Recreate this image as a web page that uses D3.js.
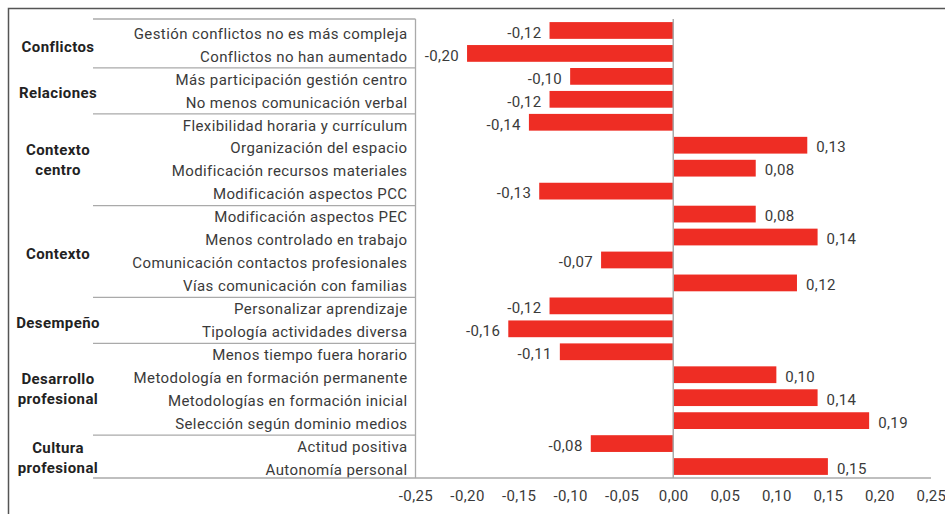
<!DOCTYPE html>
<html>
<head>
<meta charset="utf-8">
<script src="https://cdn.jsdelivr.net/npm/d3@7"></script>
<style>
  body { margin: 0; background: #fff; }
  text { font-family: Roboto, "Noto Sans", sans-serif; letter-spacing: 0.4px; }
</style>
</head>
<body>
<div id="chart-area"></div>
<script>
// horizontal bars grouped by block, values in ES number format

const categories = [
  "Gestión conflictos no es más compleja",
  "Conflictos no han aumentado",
  "Más participación gestión centro",
  "No menos comunicación verbal",
  "Flexibilidad horaria y currículum",
  "Organización del espacio",
  "Modificación recursos materiales",
  "Modificación aspectos PCC",
  "Modificación aspectos PEC",
  "Menos controlado en trabajo",
  "Comunicación contactos profesionales",
  "Vías comunicación con familias",
  "Personalizar aprendizaje",
  "Tipología actividades diversa",
  "Menos tiempo fuera horario",
  "Metodología en formación permanente",
  "Metodologías en formación inicial",
  "Selección según dominio medios",
  "Actitud positiva",
  "Autonomía personal"
]
const values = [-0.12, -0.20, -0.10, -0.12, -0.14, 0.13, 0.08, -0.13, 0.08, 0.14,
                -0.07, 0.12, -0.12, -0.16, -0.11, 0.10, 0.14, 0.19, -0.08, 0.15]
const groups = [
  ["Conflictos"],
  ["Relaciones"],
  ["Contexto", "centro"],
  ["Contexto"],
  ["Desempeño"],
  ["Desarrollo", "profesional"],
  ["Cultura", "profesional"]
]
const groupSizes = [2, 2, 4, 4, 2, 4, 2]
const xTicks = [-0.25, -0.20, -0.15, -0.10, -0.05, 0, 0.05, 0.10, 0.15, 0.20, 0.25]

const W = 945, H = 514
const PLOT = {LEFT: 415.5, RIGHT: 931, TOP: 19, BOTTOM: 478}
const TABLE_LEFT = 93
const LABEL_SHIFT = 3
const FONT = "15px"

const es = d3.formatLocale({decimal: ",", thousands: ".", grouping: [3], currency: ["", ""], minus: "-"})
const fmt = es.format(".2f")

const svg = d3.select("#chart-area").append("svg")
    .attr("width", W)
    .attr("height", H)

// outer frame (runs off the right and bottom edges)
svg.append("rect")
    .attr("x", 8.5).attr("y", 8.5)
    .attr("width", W + 20).attr("height", H + 20)
    .attr("fill", "none")
    .attr("stroke", "#555")
    .attr("stroke-width", 1.5)

const x = d3.scaleLinear()
    .domain([-0.25, 0.25])
    .range([PLOT.LEFT, PLOT.RIGHT])

const y = d3.scaleBand()
    .domain(categories)
    .range([PLOT.TOP, PLOT.BOTTOM])
    .paddingInner(0.27)
    .paddingOuter(0.135)

const step = y.step()

// table lines
const grid = svg.append("g").attr("stroke", "#aaa").attr("stroke-width", 1.3)
grid.append("line")
    .attr("x1", TABLE_LEFT).attr("x2", PLOT.LEFT)
    .attr("y1", PLOT.TOP).attr("y2", PLOT.TOP)
grid.append("line")
    .attr("x1", PLOT.LEFT).attr("x2", PLOT.LEFT)
    .attr("y1", PLOT.TOP).attr("y2", PLOT.BOTTOM)

let start = 0
const groupSpans = groupSizes.map(n => {
  const span = {from: start, to: start + n}
  start += n
  return span
})
groupSpans.slice(0, -1).forEach(s => {
  const yy = PLOT.TOP + s.to * step + LABEL_SHIFT
  grid.append("line")
      .attr("x1", TABLE_LEFT).attr("x2", PLOT.LEFT)
      .attr("y1", yy).attr("y2", yy)
})

// bars
svg.append("g").selectAll("rect")
    .data(values)
    .enter().append("rect")
    .attr("x", d => x(Math.min(0, d)))
    .attr("y", (d, i) => y(categories[i]))
    .attr("width", d => Math.abs(x(d) - x(0)))
    .attr("height", y.bandwidth())
    .attr("fill", "#ee2d24")

// zero line
svg.append("line")
    .attr("x1", x(0)).attr("x2", x(0))
    .attr("y1", PLOT.TOP).attr("y2", PLOT.BOTTOM)
    .attr("stroke", "#aaa")
    .attr("stroke-width", 1.5)

// value labels
svg.append("g").selectAll("text")
    .data(values)
    .enter().append("text")
    .attr("x", d => d < 0 ? x(d) - 8 : x(d) + 9)
    .attr("y", (d, i) => y(categories[i]) + y.bandwidth() / 2 + 2)
    .attr("dy", "0.35em")
    .attr("text-anchor", d => d < 0 ? "end" : "start")
    .attr("font-size", FONT)
    .attr("fill", "#3a3a3a")
    .text(d => fmt(d))

// category labels
svg.append("g").selectAll("text")
    .data(categories)
    .enter().append("text")
    .attr("x", PLOT.LEFT - 8)
    .attr("y", d => y(d) + y.bandwidth() / 2 + LABEL_SHIFT)
    .attr("dy", "0.35em")
    .attr("text-anchor", "end")
    .attr("font-size", FONT)
    .attr("fill", "#3a3a3a")
    .text(d => d)

// group labels
const gl = svg.append("g")
groups.forEach((lines, i) => {
  const s = groupSpans[i]
  const cy = PLOT.TOP + (s.from + s.to) / 2 * step + LABEL_SHIFT + (lines.length === 1 ? 2 : 0)
  const t = gl.append("text")
      .attr("x", 58)
      .attr("y", cy - (lines.length - 1) * 10)
      .attr("text-anchor", "middle")
      .attr("font-size", FONT)
      .attr("font-weight", "bold")
      .attr("fill", "#222")
  lines.forEach((ln, j) => {
    t.append("tspan")
        .attr("x", 58)
        .attr("dy", j === 0 ? "0.35em" : "20px")
        .text(ln)
  })
})

// x axis
svg.append("line")
    .attr("x1", TABLE_LEFT).attr("x2", PLOT.RIGHT)
    .attr("y1", PLOT.BOTTOM).attr("y2", PLOT.BOTTOM)
    .attr("stroke", "#aaa")
    .attr("stroke-width", 1.5)

const xAxisCall = d3.axisBottom(x)
    .tickValues(xTicks)
    .tickSize(0)
    .tickPadding(12)
    .tickFormat(d => fmt(d))
const xAxis = svg.append("g")
    .attr("transform", `translate(0, ${PLOT.BOTTOM})`)
    .call(xAxisCall)
xAxis.select(".domain").remove()
xAxis.selectAll("text")
    .attr("font-size", FONT)
    .attr("font-family", "Roboto, 'Noto Sans', sans-serif")
    .attr("fill", "#3a3a3a")
</script>
</body>
</html>
